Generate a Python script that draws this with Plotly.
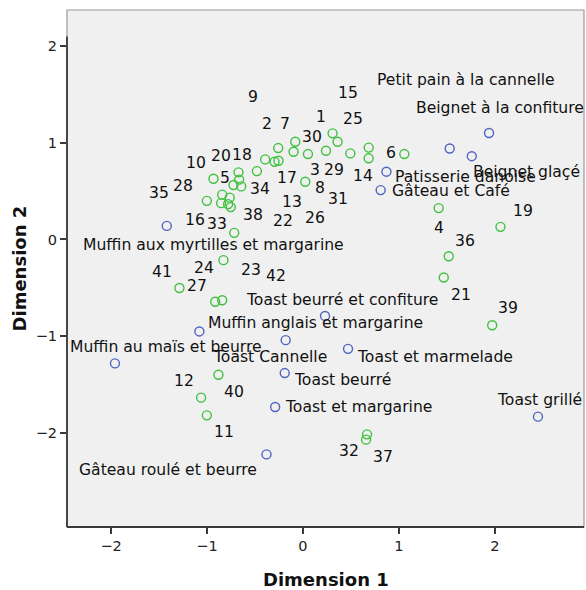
import plotly.graph_objects as go

# ---------------- data ----------------
item_names = ["Toast grillé", "Toast beurré", "Muffin anglais et margarine",
              "Beignet à la confiture", "Toast Cannelle",
              "Muffin aux myrtilles et margarine", "Gâteau roulé et beurre",
              "Toast et marmelade", "Toast beurré et confiture",
              "Toast et margarine", "Petit pain à la cannelle",
              "Patisserie danoise", "Beignet glaçé", "Gâteau et Café",
              "Muffin au maïs et beurre"]
item_x = [2.45, -0.19, -1.08, 1.94, -0.18, -1.42, -0.38, 0.47, 0.23, -0.29,
          1.53, 0.87, 1.76, 0.81, -1.96]
item_y = [-1.83, -1.38, -0.95, 1.10, -1.04, 0.14, -2.22, -1.13, -0.79, -1.73,
          0.94, 0.70, 0.86, 0.51, -1.28]

resp_labels = ["1", "2", "3", "4", "5", "6", "7", "8", "9", "10",
               "11", "12", "13", "14", "15", "16", "17", "18", "19", "20",
               "21", "22", "23", "24", "25", "26", "27", "28", "29", "30",
               "31", "32", "33", "34", "35", "36", "37", "38", "39", "40",
               "41", "42"]
resp_x = [0.309, -0.394, 0.052, 1.415, -0.724, 1.057, -0.098, 0.024, -0.258, -0.933,
          -1.002, -0.881, -0.255, 0.685, 0.494, -0.842, -0.296, -0.672, 2.059, -0.665,
          1.468, -0.780, -0.717, -0.829, 0.361, -0.752, -1.288, -1.002, 0.240, -0.080,
          0.685, 0.668, -0.764, -0.480, -0.853, 1.520, 0.658, -0.644, 1.973, -1.062,
          -0.915, -0.842]
resp_y = [1.096, 0.827, 0.882, 0.324, 0.562, 0.882, 0.906, 0.596, 0.944, 0.627,
          -1.817, -1.398, 0.813, 0.838, 0.889, 0.463, 0.802, 0.693, 0.130, 0.618,
          -0.393, 0.365, 0.068, -0.214, 1.009, 0.334, -0.501, 0.399, 0.916, 1.009,
          0.949, -2.013, 0.432, 0.706, 0.375, -0.173, -2.068, 0.548, -0.886, -1.634,
          -0.643, -0.628]

x_ticks = [-2, -1, 0, 1, 2]
y_ticks = [-2, -1, 0, 1, 2]

# ---------------- label placement (pixel offsets, screen coords: +dy = down) ----------------
item_label_dx = [-42, 8, 8, -74, -74, -85, -189, 8, -80, 9, -74, 8, 0, 10, -46]
item_label_dy = [-17, 7, -8, -25, 17, 19, 16, 8, -16, 0, -68, 5, 16, 1, -16]
resp_label_dx = [-12, 2, 7, 0, -9, -13, -9, 15, -25, -17, 17, -34, 13, -6, -2, -27, 12, 3,
                 23, -18, 17, 55, 17, -19, 15, 84, 18, -24, 8, 17, -31, -18, -13, 3, -62,
                 16, 17, 12, 16, 33, -53, 54]
resp_label_dy = [-16, -35, 16, 20, -7, -1, -28, 6, -51, -16, 17, 6, 41, 18, -60, 25, 16, -17,
                 -16, -24, 17, 17, 37, 8, -23, 11, -2, -15, 19, -5, 51, 17, 26, 18, -10,
                 -15, 17, 29, -17, -6, -30, -24]

FONT = "DejaVu Sans"
BLUE = "#4f63c2"
GREEN = "#3fc13f"
DARK = "#3a3a3a"

fig = go.Figure()
fig.add_trace(go.Scatter(
    x=resp_x, y=resp_y, mode="markers", name="Respondents",
    marker=dict(symbol="circle-open", size=9, color=GREEN, line=dict(width=1.4, color=GREEN)),
    hovertext=resp_labels, cliponaxis=False))
fig.add_trace(go.Scatter(
    x=item_x, y=item_y, mode="markers", name="Items",
    marker=dict(symbol="circle-open", size=9, color=BLUE, line=dict(width=1.4, color=BLUE)),
    hovertext=item_names, cliponaxis=False))

annotations = []
for lab, x, y, dx, dy in zip(resp_labels, resp_x, resp_y, resp_label_dx, resp_label_dy):
    annotations.append(dict(x=x, y=y, xref="x", yref="y", text=lab, showarrow=False,
                            xanchor="center", yanchor="middle", xshift=dx, yshift=-dy,
                            borderpad=0, font=dict(family=FONT, size=15.6, color="#111")))
for lab, x, y, dx, dy in zip(item_names, item_x, item_y, item_label_dx, item_label_dy):
    annotations.append(dict(x=x, y=y, xref="x", yref="y", text=lab, showarrow=False,
                            xanchor="left", yanchor="middle", xshift=dx, yshift=-dy,
                            borderpad=0, font=dict(family=FONT, size=15.6, color="#111")))
annotations.append(dict(x=0.5, y=-0.101, xref="paper", yref="paper", text="<b>Dimension 1</b>",
                        showarrow=False, xanchor="center", yanchor="middle",
                        font=dict(family=FONT, size=18, color="#111")))
annotations.append(dict(x=-0.091, y=0.5, xref="paper", yref="paper", text="<b>Dimension 2</b>",
                        showarrow=False, xanchor="center", yanchor="middle", textangle=-90,
                        font=dict(family=FONT, size=18, color="#111")))

shapes = [
    dict(type="rect", xref="paper", yref="paper", x0=0, x1=1, y0=0, y1=1,
         line=dict(color="#9a9a9a", width=1.2), layer="above"),
    dict(type="line", xref="paper", yref="y", x0=0, x1=0, y0=-2.97, y1=2.095,
         line=dict(color=DARK, width=1.8), layer="above"),
    dict(type="line", xref="paper", yref="paper", x0=0, x1=1, y0=0, y1=0,
         line=dict(color=DARK, width=1.8), layer="above"),
]

fig.update_layout(
    width=586, height=590,
    margin=dict(l=67, r=2, t=10, b=63),
    paper_bgcolor="white", plot_bgcolor="#f0f0f0",
    showlegend=False,
    annotations=annotations, shapes=shapes,
    xaxis=dict(range=[-2.46, 2.93], tickvals=x_ticks, ticks="outside", ticklen=6,
               tickwidth=1.5, tickcolor=DARK, showgrid=False, zeroline=False,
               showline=False, tickfont=dict(family=FONT, size=14.5, color="#222")),
    yaxis=dict(range=[-2.97, 2.37], tickvals=y_ticks, ticks="outside", ticklen=6,
               tickwidth=1.5, tickcolor=DARK, showgrid=False, zeroline=False,
               showline=False, tickfont=dict(family=FONT, size=14.5, color="#222")),
)

# remove the default page margin so the figure fills the 586x590 window exactly
fig.write_html("out.html",
               config={"displayModeBar": False},
               post_script="document.body.style.margin='0';document.body.style.overflow='hidden';")
